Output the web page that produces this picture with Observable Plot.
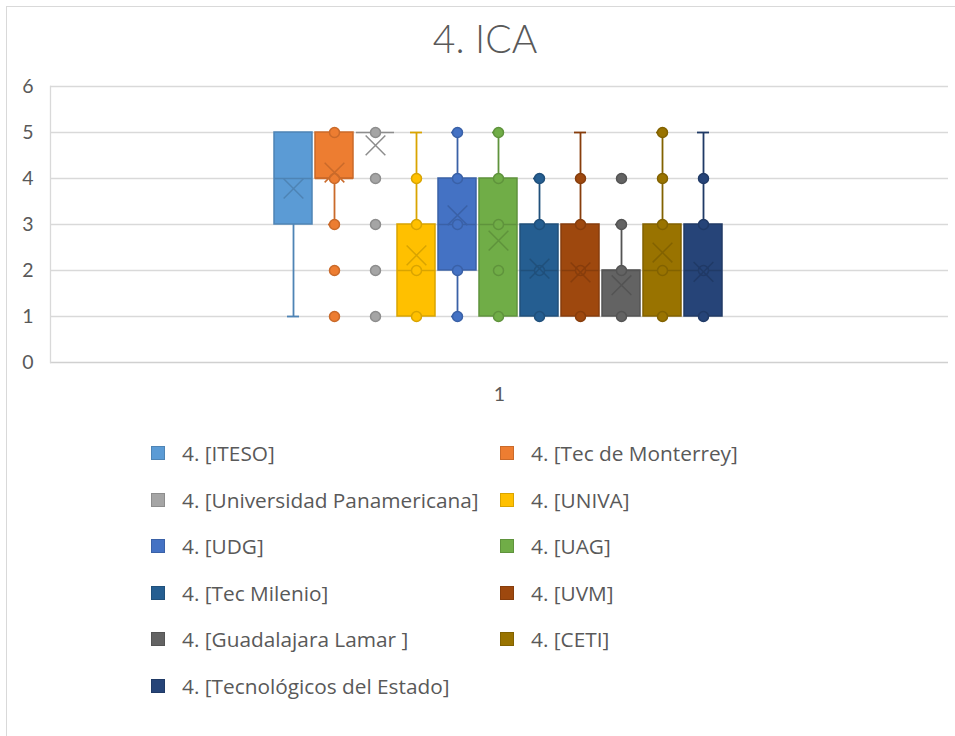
<!DOCTYPE html>
<html>
<head>
<meta charset="utf-8">
<script src="https://cdn.jsdelivr.net/npm/d3@7"></script>
<script src="https://cdn.jsdelivr.net/npm/@observablehq/plot@0.6"></script>
<style>
  html, body { margin: 0; padding: 0; background: #fff; }
  #chart { position: relative; width: 955px; height: 736px; overflow: hidden; font-family: Lato, "Open Sans", sans-serif; color: #595959; }
  #border { position: absolute; left: 6px; top: 6px; width: 970px; height: 760px; border: 1px solid #d9d9d9; box-sizing: border-box; }
  #title { position: absolute; left: 0; top: 15px; width: 970px; text-align: center; font-size: 39px; font-weight: 300; color: #595959; }
  #plot { position: absolute; left: 0; top: 70px; }
  .leg { position: absolute; display: flex; align-items: center; font-family: "Open Sans", sans-serif; font-size: 20.8px; color: #595959; white-space: pre; }
  .sw { width: 14px; height: 14px; box-sizing: border-box; border: 1.5px solid; margin-right: 17px; }
</style>
</head>
<body>
<div id="chart">
  <div id="border"></div>
  <div id="title">4. ICA</div>
  <div id="plot"></div>
  <div id="legend"></div>
</div>
<script>
const schools = ["4. [ITESO]", "4. [Tec de Monterrey]", "4. [Universidad Panamericana]", "4. [UNIVA]", "4. [UDG]", "4. [UAG]", "4. [Tec Milenio]", "4. [UVM]", "4. [Guadalajara Lamar ]", "4. [CETI]", "4. [Tecnológicos del Estado]"];
const colors = ["#5B9BD5", "#ED7D31", "#A5A5A5", "#FFC000", "#4472C4", "#70AD47", "#255E91", "#9E480E", "#636363", "#997300", "#264478"];
const q1 =          [3, 4, 5, 1, 2, 1, 1, 1, 1, 1, 1];
const median =      [4, 4, 5, 2, 3, 3, 2, 2, 2, 2, 2];
const q3 =          [5, 5, 5, 3, 4, 4, 3, 3, 2, 3, 3];
const whiskerLow =  [1, 3, 5, 1, 1, 1, 1, 1, 1, 1, 1];
const whiskerHigh = [5, 5, 5, 5, 5, 5, 4, 5, 3, 5, 5];
const means =       [3.78, 4.13, 4.72, 2.33, 3.2, 2.65, 2.04, 1.96, 1.68, 2.39, 1.97];
const points = [
  [],
  [5, 4, 3, 2, 1],
  [5, 4, 3, 2, 1],
  [4, 3, 2, 1],
  [5, 4, 3, 2, 1],
  [5, 4, 3, 2, 1],
  [4, 3, 2, 1],
  [4, 3, 2, 1],
  [4, 3, 2, 1],
  [5, 4, 3, 2, 1],
  [4, 3, 2, 1]
];
const categories = ["1"];
const yTicks = [0, 1, 2, 3, 4, 5, 6];

const dark = c => d3.color(c).darker(0.45).formatHex();

const boxes = schools.map((s, i) => ({
  name: s, color: colors[i], dark: dark(colors[i]),
  q1: q1[i], median: median[i], q3: q3[i],
  lo: whiskerLow[i], hi: whiskerHigh[i], mean: means[i]
}));
const caps = [];
boxes.forEach(b => {
  if (b.lo < b.q1) caps.push({name: b.name, v: b.lo, dark: b.dark});
  if (b.hi > b.q3) caps.push({name: b.name, v: b.hi, dark: b.dark});
});
const pts = [];
schools.forEach((s, i) => points[i].forEach(v => pts.push({name: s, v, color: colors[i], dark: dark(colors[i])})));

const plot = Plot.plot({
  width: 955,
  height: 340,
  marginLeft: 50,
  marginRight: 7,
  marginTop: 16,
  marginBottom: 48,
  style: {fontFamily: "Lato, 'Open Sans', sans-serif", color: "#595959", background: "transparent"},
  x: {type: "band", domain: schools, range: [273, 722], paddingInner: 0.08, paddingOuter: 0, axis: null},
  y: {domain: [0, 6], axis: null},
  color: {type: "identity"},
  marks: [
    Plot.gridY(yTicks.slice(1), {stroke: "#d9d9d9", strokeOpacity: 1, strokeWidth: 1.3}),
    Plot.ruleY([0], {stroke: "#d0d0d0", strokeWidth: 1.3}),
    Plot.frame({anchor: "left", stroke: "#d9d9d9", strokeWidth: 1.3}),
    Plot.axisY(yTicks, {tickSize: 0, tickPadding: 17, fontSize: 19.5, fill: "#595959"}),
    Plot.text(categories, {text: d => d, frameAnchor: "bottom", dy: 38, fontSize: 19.5, fill: "#595959"}),
    Plot.ruleX(boxes, {x: "name", y1: "lo", y2: "hi", stroke: "dark", strokeWidth: 1.8}),
    Plot.tickY(caps, {x: "name", y: "v", stroke: "dark", strokeWidth: 1.8, insetLeft: 13, insetRight: 13}),
    Plot.barY(boxes, {x: "name", y1: "q1", y2: "q3", fill: "color", stroke: "dark", strokeWidth: 1.5}),
    Plot.tickY(boxes, {x: "name", y: "median", stroke: "dark", strokeWidth: 1.5}),
    Plot.dot(pts, {x: "name", y: "v", r: 5, fill: "color", stroke: "dark", strokeWidth: 1.5}),
    Plot.dot(boxes, {x: "name", y: "mean", symbol: "times", r: 9, stroke: "dark", strokeWidth: 1.5})
  ]
});
document.getElementById("plot").appendChild(plot);

const legend = document.getElementById("legend");
schools.forEach((s, i) => {
  const col = i % 2, row = Math.floor(i / 2);
  const item = document.createElement("div");
  item.className = "leg";
  item.style.left = (col === 0 ? 151 : 500) + "px";
  item.style.top = (440 + row * 46.6) + "px";
  item.style.height = "26px";
  const sw = document.createElement("div");
  sw.className = "sw";
  sw.style.background = colors[i];
  sw.style.borderColor = dark(colors[i]);
  const t = document.createElement("span");
  t.textContent = s;
  item.appendChild(sw);
  item.appendChild(t);
  legend.appendChild(item);
});
</script>
</body>
</html>
